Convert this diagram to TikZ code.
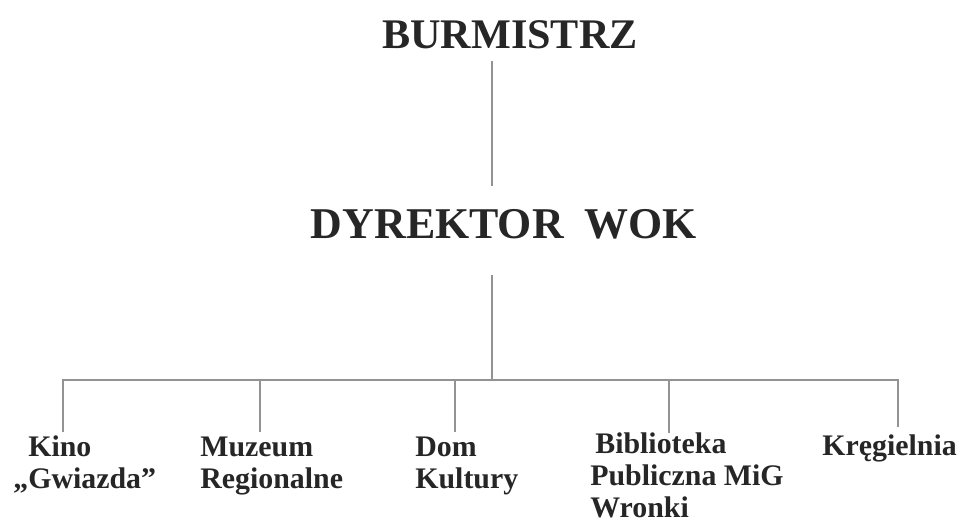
\documentclass[tikz,border=0pt]{standalone}
\usepackage{fontspec}
\setmainfont{Liberation Serif}
\usepackage{tikz}

\begin{document}
\begin{tikzpicture}[x=0.02cm, y=-0.02cm,
    boss/.style={inner sep=0pt, text=black!85, font=\bfseries\fontsize{24}{26}\selectfont},
    unit/.style={inner sep=0pt, anchor=base west, align=left, text=black!85,
      font=\bfseries\fontsize{17}{18}\selectfont},
    link/.style={draw=gray!85, line width=1.1pt}]
  \useasboundingbox (0,0) rectangle (957,524);
  \coordinate (axis) at (492,0);
  \coordinate (hub) at (492,380);
  \node[boss, anchor=base] (burm) at (510,49) {BURMISTRZ};
  \node[boss, anchor=base, font=\bfseries\fontsize{25}{27}\selectfont] (dyr) at (504,238) {DYREKTOR\hspace{0.2cm} WOK};
  \draw[link, shorten <=0.22cm, shorten >=0.46cm] (burm.south -| axis) -- (dyr.north -| axis);
  \draw[link, shorten <=0.72cm] (dyr.south -| axis) -- (hub);
  \node[unit] (kino) at (13,488) {\hspace*{0.3cm}Kino\\„Gwiazda”};
  \node[unit] (muz) at (200,488) {Muzeum\\Regionalne};
  \node[unit] (dom) at (415,488) {Dom\\Kultury};
  \node[unit] (bib) at (590,517) {\hspace*{0.1cm}Biblioteka\\Publiczna MiG\\Wronki};
  \node[unit] (kreg) at (822,455) {Kręgielnia};
  \coordinate (kino-in) at (63,432);
  \coordinate (muz-in) at (260,432);
  \coordinate (dom-in) at (455,432);
  \coordinate (bib-in) at (669,433);
  \coordinate (kreg-in) at (898,427);
  \foreach \u in {kino,muz,dom,bib,kreg}
    \draw[link] (\u-in) |- (hub);
\end{tikzpicture}
\end{document}
